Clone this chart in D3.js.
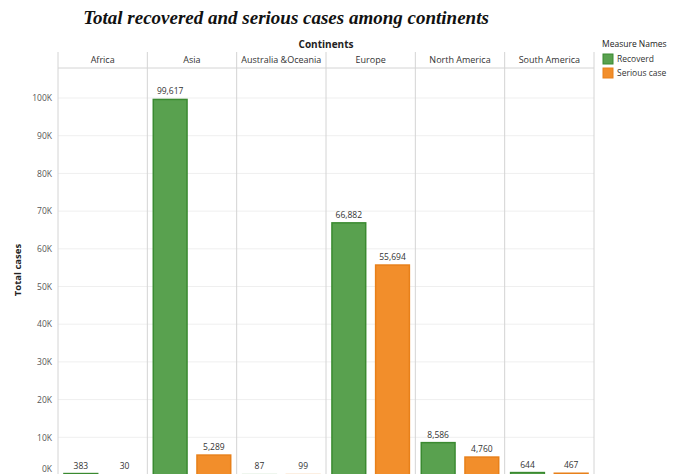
<!DOCTYPE html>
<html><head><meta charset="utf-8">
<script src="https://cdn.jsdelivr.net/npm/d3@7"></script>
<style>body{margin:0;background:#fff}svg{display:block}</style>
</head><body><svg id="c" width="677" height="474"></svg>
<script>
const continents = ["Africa","Asia","Australia &Oceania","Europe","North America","South America"];
const measures = ["Recoverd","Serious case"];
const recovered = [383, 99617, 87, 66882, 8586, 644];
const serious = [30, 5289, 99, 55694, 4760, 467];
const yTicks = [0,10000,20000,30000,40000,50000,60000,70000,80000,90000,100000];
const colors = {fill:["#59a14f","#f28e2b"], stroke:["#3a8a30","#e8801a"]};

(function(){
const svg = d3.select("#c");
const font = "'Open Sans', sans-serif";
const pLeft = 58, pRight = 594, pTop = 52, headerBottom = 68, pBottom = 475;

const x = d3.scaleBand().domain(continents).range([pLeft, pRight]).padding(0);
const xs = d3.scaleBand().domain(measures).range([0, x.bandwidth()]).paddingInner(0.227).paddingOuter(0.136);
const y = d3.scaleLinear().domain([0, 100000]).range([pBottom, 98]);

// title
svg.append("text").attr("x", 286).attr("y", 24).attr("text-anchor","middle")
  .attr("font-family","'Liberation Serif', serif").attr("font-weight","bold").attr("font-style","italic")
  .attr("font-size", 19).attr("fill","#111").text("Total recovered and serious cases among continents");

svg.append("text").attr("x", (pLeft+pRight)/2).attr("y", 48).attr("text-anchor","middle")
  .attr("font-family", font).attr("font-weight","bold").attr("font-size", 10).attr("fill","#222").text("Continents");

// gridlines
svg.append("g").selectAll("line").data(yTicks.slice(1)).join("line")
  .attr("x1", pLeft).attr("x2", pRight).attr("y1", d=>y(d)).attr("y2", d=>y(d))
  .attr("stroke","#efefef").attr("stroke-width",1);

// header bottom line
svg.append("line").attr("x1", pLeft).attr("x2", pRight).attr("y1", headerBottom).attr("y2", headerBottom)
  .attr("stroke","#d4d4d4");

// pane dividers
const divs = continents.map(c=>x(c)).concat([pRight]);
svg.append("g").selectAll("line").data(divs).join("line")
  .attr("x1", d=>d).attr("x2", d=>d).attr("y1", pTop).attr("y2", 474)
  .attr("stroke","#d4d4d4").attr("stroke-width",1);

// headers
svg.append("g").selectAll("text").data(continents).join("text")
  .attr("x", d=>x(d)+x.bandwidth()/2).attr("y", 63).attr("text-anchor","middle")
  .attr("font-family", font).attr("font-size", 9).attr("fill","#333").text(d=>d);

// y axis
const yAxis = d3.axisLeft(y).tickValues(yTicks).tickSize(0).tickPadding(6)
  .tickFormat(d => (d/1000) + "K");
const ya = svg.append("g").attr("transform",`translate(${pLeft},0)`).call(yAxis);
ya.select(".domain").remove();
ya.selectAll("text").attr("font-family", font).attr("font-size", 8.5).attr("fill","#555");
ya.selectAll(".tick").filter(d=>d===0).select("text").attr("dy","-0.45em");

svg.append("text").attr("transform","translate(21,270) rotate(-90)").attr("text-anchor","middle")
  .attr("font-family", font).attr("font-weight","bold").attr("font-size", 9.5).attr("fill","#222").text("Total cases");

// bars
const rows = [];
continents.forEach((c,i)=>{
  rows.push({c, m:measures[0], v:recovered[i], k:0});
  rows.push({c, m:measures[1], v:serious[i], k:1});
});
svg.append("g").selectAll("rect").data(rows).join("rect")
  .attr("x", d=>x(d.c)+xs(d.m)).attr("width", xs.bandwidth())
  .attr("y", d=>y(d.v)).attr("height", d=>pBottom - y(d.v))
  .attr("fill", d=>colors.fill[d.k]).attr("stroke", d=>colors.stroke[d.k]).attr("stroke-width",1.5);

svg.append("g").selectAll("text").data(rows).join("text")
  .attr("x", d=>x(d.c)+xs(d.m)+xs.bandwidth()/2).attr("y", d=>Math.min(y(d.v)-5, 469))
  .attr("text-anchor","middle").attr("font-family", font).attr("font-size", 8.5).attr("fill","#333")
  .text(d=>d3.format(",")(d.v));

// legend
const lg = svg.append("g").attr("transform","translate(602,0)");
lg.append("text").attr("x",0).attr("y",47).attr("font-family", font).attr("font-size", 8.5).attr("fill","#222").text("Measure Names");
measures.forEach((m,i)=>{
  lg.append("rect").attr("x",1).attr("y",54+i*14).attr("width",10).attr("height",10)
    .attr("fill",colors.fill[i]).attr("stroke",colors.stroke[i]);
  lg.append("text").attr("x",15).attr("y",62+i*14).attr("font-family", font).attr("font-size", 8.5).attr("fill","#333").text(m);
});
})();
</script></body></html>
